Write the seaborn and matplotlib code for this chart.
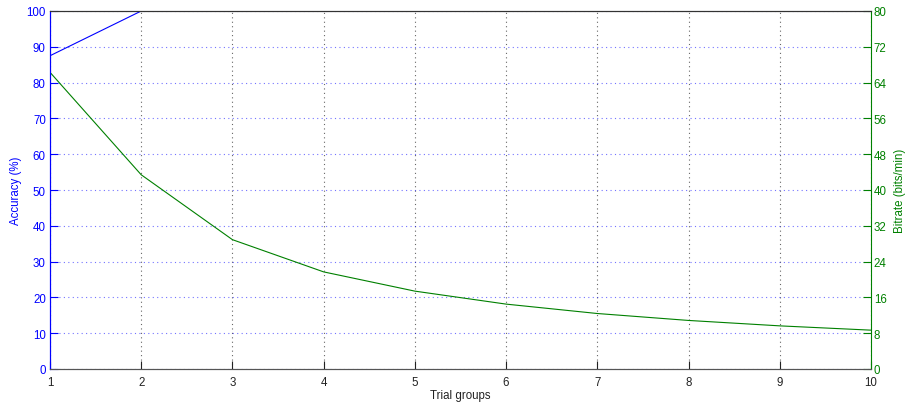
"""Accuracy and bitrate per trial group, MATLAB plotyy look."""
import matplotlib
matplotlib.use("Agg")
import matplotlib.pyplot as plt
import seaborn as sns
import pandas as pd

trial_groups = [1, 2, 3, 4, 5, 6, 7, 8, 9, 10]
accuracy = [87.5, 100, 100, 100, 100, 100, 100, 100, 100, 100]
bitrate = [66.3, 43.4, 28.9, 21.7, 17.4, 14.5, 12.4, 10.85, 9.64, 8.68]

BLUE = "#0000ff"
GREEN = "#008000"
FS = 8.3

df = pd.DataFrame({"group": trial_groups, "accuracy": accuracy, "bitrate": bitrate})

sns.set_style("ticks")
plt.rcParams["font.family"] = ["Liberation Sans", "DejaVu Sans"]
plt.rcParams["font.size"] = FS

fig, ax = plt.subplots(figsize=(9.06, 4.10), dpi=100)
fig.subplots_adjust(left=50 / 906, right=871 / 906, top=1 - 12 / 410, bottom=1 - 370 / 410)

sns.lineplot(data=df, x="group", y="accuracy", ax=ax, color=BLUE, linewidth=0.8)
ax2 = ax.twinx()
sns.lineplot(data=df, x="group", y="bitrate", ax=ax2, color=GREEN, linewidth=0.8)

ax.set_xlim(1, 10)
ax.set_ylim(0, 100)
ax2.set_ylim(0, 80)
ax.set_xticks(trial_groups)
ax.set_yticks(range(0, 101, 10))
ax2.set_yticks(range(0, 81, 8))

# grid: vertical gray dotted, horizontal blue dotted
ax.xaxis.grid(True, linestyle=(0, (1, 3)), color="#666666", linewidth=0.8)
ax.yaxis.grid(True, linestyle=(0, (1, 3)), color=BLUE, linewidth=0.8, alpha=0.55)
ax2.grid(False)

ax.tick_params(axis="both", direction="in", length=6, width=0.8, labelsize=FS)
ax.tick_params(axis="y", colors=BLUE, pad=3)
ax.tick_params(axis="x", colors="#222222", pad=5)
ax2.tick_params(axis="y", direction="in", length=6, width=0.8, colors=GREEN, labelsize=FS, pad=2)

for a in (ax, ax2):
    for s in a.spines.values():
        s.set_linewidth(0.8)
    a.spines["top"].set_visible(True)
    a.spines["top"].set_color("#333333")
    a.spines["bottom"].set_color("#555555")
ax.spines["left"].set_color(BLUE)
ax2.spines["left"].set_color(BLUE)
ax2.spines["right"].set_color(GREEN)
ax2.spines["right"].set_visible(True)
ax.spines["right"].set_visible(False)

ax.set_xlabel("Trial groups", fontsize=FS, color="#222222", labelpad=1)
ax.set_ylabel("Accuracy (%)", fontsize=FS, color=BLUE, labelpad=3)
ax2.set_ylabel("Bitrate (bits/min)", fontsize=FS, color=GREEN, rotation=90, labelpad=5)

plt.savefig("out.png", dpi=100)
plt.close()
